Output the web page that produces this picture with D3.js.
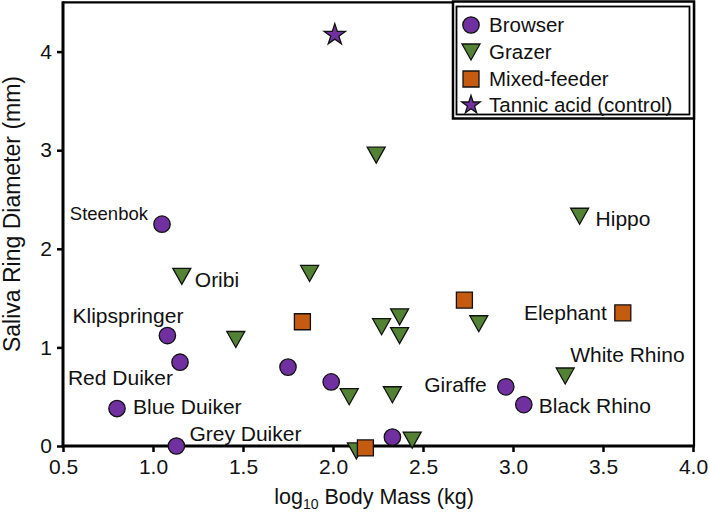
<!DOCTYPE html>
<html><head><meta charset="utf-8">
<script src="https://cdn.jsdelivr.net/npm/d3@7"></script>
<style>
html,body{margin:0;padding:0;background:#fff;}
svg{display:block;font-family:"Liberation Sans",Arial,sans-serif;}
</style></head>
<body>
<svg id="chart" width="709" height="514"></svg>
<script>
// ---- data ----
const browserNames = ["Steenbok","Klipspringer","Red Duiker","Blue Duiker","Grey Duiker","","","","Giraffe","Black Rhino"];
const browserX = [1.05,1.08,1.15,0.80,1.13,1.75,1.99,2.33,2.96,3.06];
const browserY = [2.25,1.12,0.85,0.38,0.00,0.80,0.65,0.09,0.60,0.42];

const grazerNames = ["Oribi","","","","","","","","","","","","Hippo","White Rhino"];
const grazerX = [1.16,1.46,1.87,2.24,2.09,2.13,2.27,2.37,2.37,2.33,2.44,2.81,3.37,3.29];
const grazerY = [1.72,1.08,1.75,2.95,0.50,-0.05,1.21,1.31,1.12,0.52,0.06,1.24,2.33,0.71];

const mixedNames = ["","","","Elephant"];
const mixedX = [1.83,2.18,2.73,3.61];
const mixedY = [1.26,-0.02,1.48,1.35];

const controlNames = [""];
const controlX = [2.01];
const controlY = [4.17];

const xTicks = [0.5,1.0,1.5,2.0,2.5,3.0,3.5,4.0];
const yTicks = [0,1,2,3,4];
const legendLabels = ["Browser","Grazer","Mixed-feeder","Tannic acid (control)"];

// ---- label placement (style, not data) ----
const labelPlacement = {
  "Steenbok":    {dx:-14, dy:-11, anchor:"end",   size:18.5},
  "Klipspringer":{dx:16,  dy:-20, anchor:"end",   size:21},
  "Red Duiker":  {dx:-7,  dy:15,  anchor:"end",   size:21},
  "Blue Duiker": {dx:16,  dy:-2,  anchor:"start", size:21},
  "Grey Duiker": {dx:13,  dy:-12, anchor:"start", size:21},
  "Giraffe":     {dx:-19, dy:-2,  anchor:"end",   size:21},
  "Black Rhino": {dx:15,  dy:1,   anchor:"start", size:21},
  "Oribi":       {dx:13,  dy:3,   anchor:"start", size:21},
  "Hippo":       {dx:16,  dy:2,   anchor:"start", size:21},
  "White Rhino": {dx:5,   dy:-21, anchor:"start", size:21},
  "Elephant":    {dx:-16, dy:0,   anchor:"end",   size:21}
};

const colors = {browser:"#7030a0", grazer:"#548235", mixed:"#c55a11", control:"#7030a0"};

const svg = d3.select("#chart");
const x = d3.scaleLinear().domain([0.5,4.0]).range([63,693]);
const y = d3.scaleLinear().domain([0,4]).range([446,51.6]);

// frame (top and right)
svg.append("path")
  .attr("d", `M${x(0.5)},${y(4.5)}H${x(4.0)+1}V${y(0)}`)
  .attr("fill","none").attr("stroke","#000").attr("stroke-width",2.2);

// axes
const xAxis = svg.append("g").attr("transform",`translate(0,${y(0)})`)
  .call(d3.axisBottom(x).tickValues(xTicks).tickFormat(d3.format(".1f")).tickSizeOuter(0).tickSize(6).tickPadding(7));
const yAxis = svg.append("g").attr("transform",`translate(${x(0.5)},0)`)
  .call(d3.axisLeft(y).tickValues(yTicks).tickFormat(d3.format("d")).tickSizeOuter(0).tickSize(6).tickPadding(5));
[xAxis,yAxis].forEach(g=>{
  g.select(".domain").remove();
  g.selectAll(".tick line").attr("stroke","#000").attr("stroke-width",2.5);
  g.selectAll(".tick text").attr("font-size",21).attr("fill","#111")
    .attr("font-family","'Liberation Sans',Arial,sans-serif");
});
// axis lines
svg.append("line").attr("x1",x(0.5)-1).attr("x2",x(4.0)+2).attr("y1",y(0)).attr("y2",y(0))
  .attr("stroke","#000").attr("stroke-width",3);
svg.append("line").attr("x1",x(0.5)).attr("x2",x(0.5)).attr("y1",y(4.5)-1).attr("y2",y(0)+1)
  .attr("stroke","#000").attr("stroke-width",3);

// axis titles
const xt = svg.append("text").attr("x",374).attr("y",504)
  .attr("text-anchor","middle").attr("font-size",21.5).attr("fill","#111");
xt.append("tspan").text("log");
xt.append("tspan").attr("font-size",14).attr("dy",5).text("10");
xt.append("tspan").attr("dy",-5).text(" Body Mass (kg)");
svg.append("text").attr("transform",`translate(20,214) rotate(-90)`)
  .attr("text-anchor","middle").attr("font-size",23).attr("fill","#111")
  .text("Saliva Ring Diameter (mm)");

// symbol generators
const sym = {
  browser: d3.symbol().type(d3.symbolCircle).size(Math.PI*8.2*8.2),
  mixed: d3.symbol().type(d3.symbolSquare).size(16*16),
  control: d3.symbol().type(d3.symbolStar).size(140)
};
function triPath(w,h){ // downward triangle
  return `M${-w/2},${-h/2}L${w/2},${-h/2}L0,${h/2}Z`;
}

function drawSeries(cls, xs, ys, names){
  const data = xs.map((v,i)=>({x:v,y:ys[i],name:names[i]}));
  const g = svg.append("g");
  g.selectAll("path").data(data).join("path")
    .attr("transform",d=>`translate(${x(d.x)},${y(d.y)})`)
    .attr("d", cls==="grazer" ? triPath(18,16) : sym[cls]())
    .attr("fill",colors[cls]).attr("stroke","#111").attr("stroke-width",1.3);
  return data;
}
const all = [
  ...drawSeries("grazer",grazerX,grazerY,grazerNames),
  ...drawSeries("mixed",mixedX,mixedY,mixedNames),
  ...drawSeries("browser",browserX,browserY,browserNames),
  ...drawSeries("control",controlX,controlY,controlNames)
];

// point labels
svg.append("g").selectAll("text").data(all.filter(d=>d.name)).join("text")
  .attr("x",d=>x(d.x)+labelPlacement[d.name].dx)
  .attr("y",d=>y(d.y)+labelPlacement[d.name].dy)
  .attr("dy","0.35em")
  .attr("text-anchor",d=>labelPlacement[d.name].anchor)
  .attr("font-size",d=>labelPlacement[d.name].size)
  .attr("fill","#111")
  .text(d=>d.name);

// legend
const lg = svg.append("g");
lg.append("rect").attr("x",453).attr("y",1.5).attr("width",241).attr("height",117)
  .attr("fill","#fff").attr("stroke","#000").attr("stroke-width",2.5);
lg.append("rect").attr("x",456.5).attr("y",6.5).attr("width",233).attr("height",108)
  .attr("fill","none").attr("stroke","#000").attr("stroke-width",1.8);
const legendKeys = ["browser","grazer","mixed","control"];
const legendY = [25,52,79,105];
legendKeys.forEach((k,i)=>{
  lg.append("path").attr("transform",`translate(471,${legendY[i]})`)
    .attr("d", k==="grazer" ? triPath(18,16) : (k==="control" ? d3.symbol().type(d3.symbolStar).size(105)() : sym[k]()))
    .attr("fill",colors[k]).attr("stroke","#111").attr("stroke-width",1.3);
  lg.append("text").attr("x",489).attr("y",legendY[i]).attr("dy","0.35em")
    .attr("font-size",20.5).attr("fill","#111").text(legendLabels[i]);
});
</script>
</body></html>
